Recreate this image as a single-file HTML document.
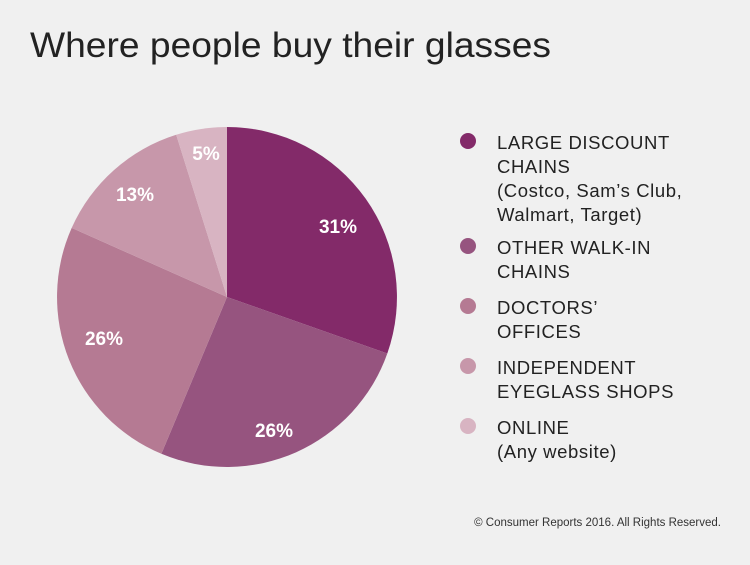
<!DOCTYPE html>
<html><head><meta charset="utf-8"><style>
body{margin:0;background:#f0f0f0;}
svg{display:block}
</style></head><body>
<svg width="750" height="565" viewBox="0 0 750 565" xmlns="http://www.w3.org/2000/svg">
<rect width="750" height="565" fill="#f0f0f0"/>
<text x="30" y="57" font-family="Liberation Sans, sans-serif" font-size="35" fill="#222" textLength="521" lengthAdjust="spacingAndGlyphs">Where people buy their glasses</text>
<g transform="translate(227,297)">
<path d="M0,0 L0,-170 A170,170 0 0 1 160.3,56.5 Z" fill="#832a69"/>
<path d="M0,0 L160.3,56.5 A170,170 0 0 1 -65.6,156.8 Z" fill="#96547f"/>
<path d="M0,0 L-65.6,156.8 A170,170 0 0 1 -155.3,-69.1 Z" fill="#b57a93"/>
<path d="M0,0 L-155.3,-69.1 A170,170 0 0 1 -50.8,-162.2 Z" fill="#c797aa"/>
<path d="M0,0 L-50.8,-162.2 A170,170 0 0 1 0,-170 Z" fill="#d8b4c2"/>
</g>
<g font-family="Liberation Sans, sans-serif" font-size="19" font-weight="bold" fill="#fff" text-anchor="middle">
<text x="338" y="233">31%</text>
<text x="274" y="437">26%</text>
<text x="104" y="345">26%</text>
<text x="135" y="201">13%</text>
<text x="206" y="160">5%</text>
</g>
<g font-family="Liberation Sans, sans-serif" font-size="18.5" fill="#222" letter-spacing="0.6">
<circle cx="468" cy="141" r="8" fill="#832a69"/>
<text x="497" y="149">LARGE DISCOUNT</text>
<text x="497" y="173">CHAINS</text>
<text x="497" y="197">(Costco, Sam’s Club,</text>
<text x="497" y="221">Walmart, Target)</text>
<circle cx="468" cy="246" r="8" fill="#96547f"/>
<text x="497" y="254">OTHER WALK-IN</text>
<text x="497" y="278">CHAINS</text>
<circle cx="468" cy="306" r="8" fill="#b57a93"/>
<text x="497" y="314">DOCTORS’</text>
<text x="497" y="338">OFFICES</text>
<circle cx="468" cy="366" r="8" fill="#c797aa"/>
<text x="497" y="374">INDEPENDENT</text>
<text x="497" y="398">EYEGLASS SHOPS</text>
<circle cx="468" cy="426" r="8" fill="#d8b4c2"/>
<text x="497" y="434">ONLINE</text>
<text x="497" y="458">(Any website)</text>
</g>
<text x="721" y="526" text-anchor="end" font-family="Liberation Sans, sans-serif" font-size="11.5" fill="#333">© Consumer Reports 2016. All Rights Reserved.</text>
</svg>
</body></html>
